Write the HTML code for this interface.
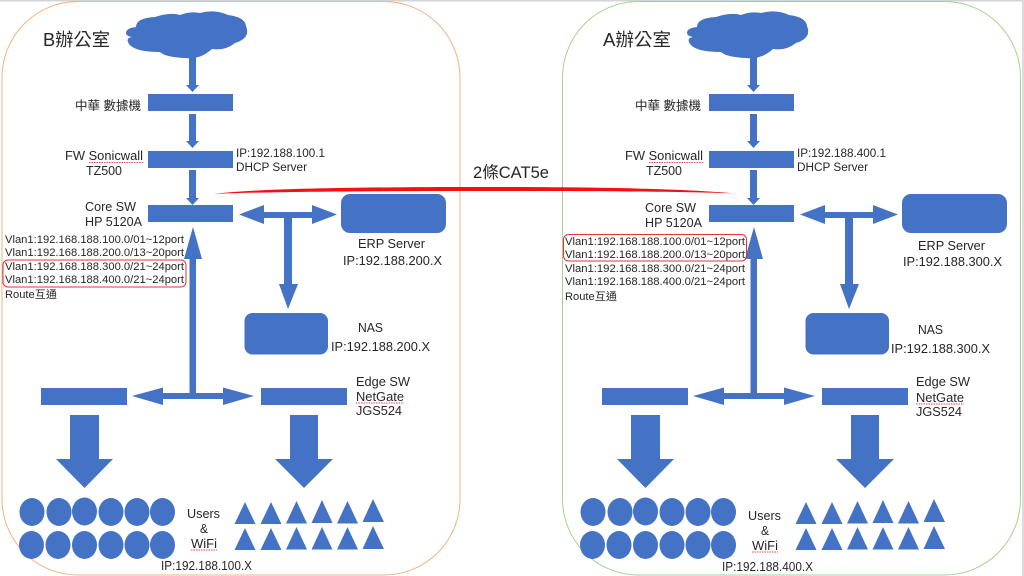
<!DOCTYPE html>
<html>
<head>
<meta charset="utf-8">
<style>
html,body{margin:0;padding:0;background:#fff;width:1024px;height:576px;overflow:hidden}
svg{display:block}
text{font-family:"Liberation Sans","Noto Sans CJK TC",sans-serif;fill:#262626;font-size:12.5px}
.v{font-size:10.8px}
.s{fill:none;stroke:#e8484f;stroke-width:1;stroke-dasharray:1.5 1}
</style>
</head>
<body>
<svg width="1024" height="576" viewBox="0 0 1024 576" xmlns="http://www.w3.org/2000/svg">
<defs>
<g id="net" fill="#4472c4">
  <!-- cloud -->
  <path d="M126 33 Q126 28 136 27 Q136 18 155 17 Q170 12 180 15 Q190 11 200 13 Q215 9 228 15 Q245 17 246 26 Q251 38 235 43 Q225 51 212 49 Q200 60 185 58 Q165 57 160 52 Q135 52 129 44 Q125 38 132 37 Q126 36 126 33Z"/>
  <!-- arrows top -->
  <polygon points="189,57 196,57 196,85 199,85 192.5,92 186,85 189,85"/>
  <rect x="148" y="94" width="85" height="17"/>
  <polygon points="189,114 196,114 196,141 199,141 192.5,148 186,141 189,141"/>
  <rect x="148" y="151" width="85" height="17"/>
  <polygon points="189,170 196,170 196,198 199,198 192.5,205 186,198 189,198"/>
  <rect x="148" y="205" width="85" height="17"/>
  <!-- up arrow -->
  <polygon points="189.5,394 189.5,259 184,259 193,227 202,259 196,259 196,394"/>
  <!-- server T arrow -->
  <polygon points="239,214.5 264,205 264,212 312,212 312,205 337,214.5 312,224 312,218 292,218 292,284 298,284 288,309 279,284 284,284 284,218 264,218 264,224"/>
  <rect x="341" y="194" width="105" height="39" rx="9"/>
  <rect x="244.5" y="313" width="83.5" height="41.5" rx="8"/>
  <!-- edge -->
  <rect x="41" y="388" width="86" height="17"/>
  <rect x="261" y="388" width="86" height="17"/>
  <polygon points="132,396 163,387.5 163,393 223,393 223,387.5 254,396 223,405 223,399 163,399 163,405"/>
  <polygon points="70,415 99,415 99,459 113,459 84.5,488 56,459 70,459"/>
  <polygon points="290,415 318,415 318,459 333,459 304,488 275,459 290,459"/>
  <!-- circles -->
  <ellipse cx="32" cy="512" rx="12.5" ry="14"/>
  <ellipse cx="59" cy="512" rx="12.5" ry="14"/>
  <ellipse cx="84.500" cy="511.500" rx="12.5" ry="14"/>
  <ellipse cx="111" cy="512" rx="12.5" ry="14"/>
  <ellipse cx="137" cy="512" rx="12.5" ry="14"/>
  <ellipse cx="162.500" cy="512" rx="12.5" ry="14"/>
  <ellipse cx="31.500" cy="545" rx="12.5" ry="14"/>
  <ellipse cx="58" cy="545" rx="12.5" ry="14"/>
  <ellipse cx="84.500" cy="545" rx="12.5" ry="14"/>
  <ellipse cx="111" cy="545" rx="12.5" ry="14"/>
  <ellipse cx="137" cy="545" rx="12.5" ry="14"/>
  <ellipse cx="162.500" cy="545" rx="12.500" ry="14"/>
  <!-- triangles -->
  <polygon points="245,502 255.500,524 234.500,524"/>
  <polygon points="271,502 281.500,524 260.500,524"/>
  <polygon points="296.500,501 307,523.500 286,523.500"/>
  <polygon points="322,500 332.500,523 311.500,523"/>
  <polygon points="347.500,501 358,523.500 337,523.500"/>
  <polygon points="373,499 384,522 362.500,522"/>
  <polygon points="245,528 255.500,550 234.500,550"/>
  <polygon points="271,528 281.500,550 260.500,550"/>
  <polygon points="296.500,527 307,549.500 286,549.500"/>
  <polygon points="322,527 332.500,549.500 311.500,549.500"/>
  <polygon points="347.500,527 358,549.500 337,549.500"/>
  <polygon points="373,526 384,549 362.500,549"/>
</g>
</defs>

<rect width="1024" height="576" fill="#fff"/>
<rect x="0" y="0" width="1024" height="1.500" fill="#d4d4d4"/>
<rect x="1022" y="0" width="2" height="576" fill="#dcdcdc"/>

<rect x="2" y="1.500" width="458" height="573.500" rx="76" fill="none" stroke="#f4b183" stroke-width="1"/>
<rect x="562.500" y="1.500" width="458" height="573.500" rx="76" fill="none" stroke="#a9d18e" stroke-width="1"/>

<use href="#net"/>
<use href="#net" x="561"/>

<!-- red link -->
<path d="M214 194 C250 189 350 187 475 187 C600 187 680 188.500 736 193.500 C680 191.500 600 191 475 191 C350 191 250 192 214 194Z" fill="#f50f14"/>
<text x="473" y="178" style="font-size:16.500px" textLength="76" lengthAdjust="spacingAndGlyphs">2條CAT5e</text>

<!-- red boxes -->
<rect x="3" y="260" width="183" height="27" rx="5" fill="none" stroke="#e8303a" stroke-width="1"/>
<rect x="563.500" y="234.500" width="183" height="26.500" rx="5" fill="none" stroke="#e8303a" stroke-width="1"/>

<!-- LEFT labels -->
<text x="43" y="46" style="font-size:18px" textLength="67" lengthAdjust="spacingAndGlyphs">B辦公室</text>
<text x="75" y="110" textLength="66" lengthAdjust="spacingAndGlyphs">中華 數據機</text>
<text x="65" y="160" textLength="78" lengthAdjust="spacingAndGlyphs">FW Sonicwall</text>
<path class="s" d="M89 162.500H143"/>
<text x="86" y="175" textLength="36" lengthAdjust="spacingAndGlyphs">TZ500</text>
<text x="236" y="157" style="font-size:11.500px" textLength="89" lengthAdjust="spacingAndGlyphs">IP:192.188.100.1</text>
<text x="236" y="171" style="font-size:11.500px" textLength="71" lengthAdjust="spacingAndGlyphs">DHCP Server</text>
<text x="85" y="211" textLength="51" lengthAdjust="spacingAndGlyphs">Core SW</text>
<text x="85" y="226" textLength="57" lengthAdjust="spacingAndGlyphs">HP 5120A</text>
<text class="v" x="5" y="243" textLength="179" lengthAdjust="spacingAndGlyphs">Vlan1:192.168.188.100.0/01~12port</text>
<text class="v" x="5" y="256" textLength="179" lengthAdjust="spacingAndGlyphs">Vlan1:192.168.188.200.0/13~20port</text>
<text class="v" x="5" y="270" textLength="179" lengthAdjust="spacingAndGlyphs">Vlan1:192.168.188.300.0/21~24port</text>
<text class="v" x="5" y="283" textLength="179" lengthAdjust="spacingAndGlyphs">Vlan1:192.168.188.400.0/21~24port</text>
<text class="v" x="5" y="298" textLength="52" lengthAdjust="spacingAndGlyphs">Route互通</text>
<text x="358" y="248" textLength="67" lengthAdjust="spacingAndGlyphs">ERP Server</text>
<text x="343" y="265" textLength="99" lengthAdjust="spacingAndGlyphs">IP:192.188.200.X</text>
<text x="358" y="332" textLength="25" lengthAdjust="spacingAndGlyphs">NAS</text>
<text x="331" y="351" textLength="99" lengthAdjust="spacingAndGlyphs">IP:192.188.200.X</text>
<text x="356" y="386" textLength="54" lengthAdjust="spacingAndGlyphs">Edge SW</text>
<text x="356" y="401" textLength="48" lengthAdjust="spacingAndGlyphs">NetGate</text>
<path class="s" d="M356 403H404"/>
<text x="356" y="415" textLength="46" lengthAdjust="spacingAndGlyphs">JGS524</text>
<text x="187" y="518" textLength="33" lengthAdjust="spacingAndGlyphs">Users</text>
<text x="200" y="533" textLength="8" lengthAdjust="spacingAndGlyphs">&amp;</text>
<text x="191" y="548" textLength="26" lengthAdjust="spacingAndGlyphs">WiFi</text>
<path class="s" d="M191 550H217"/>
<text x="161" y="570" textLength="91" lengthAdjust="spacingAndGlyphs">IP:192.188.100.X</text>

<!-- RIGHT labels -->
<text x="603" y="46" style="font-size:18px" textLength="68" lengthAdjust="spacingAndGlyphs">A辦公室</text>
<text x="635" y="110" textLength="66" lengthAdjust="spacingAndGlyphs">中華 數據機</text>
<text x="625" y="160" textLength="78" lengthAdjust="spacingAndGlyphs">FW Sonicwall</text>
<path class="s" d="M649 162.500H703"/>
<text x="646" y="175" textLength="36" lengthAdjust="spacingAndGlyphs">TZ500</text>
<text x="797" y="157" style="font-size:11.500px" textLength="89" lengthAdjust="spacingAndGlyphs">IP:192.188.400.1</text>
<text x="797" y="171" style="font-size:11.500px" textLength="71" lengthAdjust="spacingAndGlyphs">DHCP Server</text>
<text x="645" y="212" textLength="51" lengthAdjust="spacingAndGlyphs">Core SW</text>
<text x="645" y="227" textLength="57" lengthAdjust="spacingAndGlyphs">HP 5120A</text>
<text class="v" x="565" y="245" textLength="180" lengthAdjust="spacingAndGlyphs">Vlan1:192.168.188.100.0/01~12port</text>
<text class="v" x="565" y="258" textLength="180" lengthAdjust="spacingAndGlyphs">Vlan1:192.168.188.200.0/13~20port</text>
<text class="v" x="565" y="272" textLength="180" lengthAdjust="spacingAndGlyphs">Vlan1:192.168.188.300.0/21~24port</text>
<text class="v" x="565" y="285" textLength="180" lengthAdjust="spacingAndGlyphs">Vlan1:192.168.188.400.0/21~24port</text>
<text class="v" x="565" y="300" textLength="52" lengthAdjust="spacingAndGlyphs">Route互通</text>
<text x="918" y="250" textLength="67" lengthAdjust="spacingAndGlyphs">ERP Server</text>
<text x="903" y="266" textLength="99" lengthAdjust="spacingAndGlyphs">IP:192.188.300.X</text>
<text x="918" y="334" textLength="25" lengthAdjust="spacingAndGlyphs">NAS</text>
<text x="891" y="353" textLength="99" lengthAdjust="spacingAndGlyphs">IP:192.188.300.X</text>
<text x="916" y="386" textLength="54" lengthAdjust="spacingAndGlyphs">Edge SW</text>
<text x="916" y="402" textLength="48" lengthAdjust="spacingAndGlyphs">NetGate</text>
<path class="s" d="M916 404H964"/>
<text x="916" y="416" textLength="46" lengthAdjust="spacingAndGlyphs">JGS524</text>
<text x="748" y="520" textLength="33" lengthAdjust="spacingAndGlyphs">Users</text>
<text x="761" y="535" textLength="8" lengthAdjust="spacingAndGlyphs">&amp;</text>
<text x="752" y="550" textLength="26" lengthAdjust="spacingAndGlyphs">WiFi</text>
<path class="s" d="M752 552H778"/>
<text x="722" y="571" textLength="91" lengthAdjust="spacingAndGlyphs">IP:192.188.400.X</text>
</svg>
</body>
</html>
